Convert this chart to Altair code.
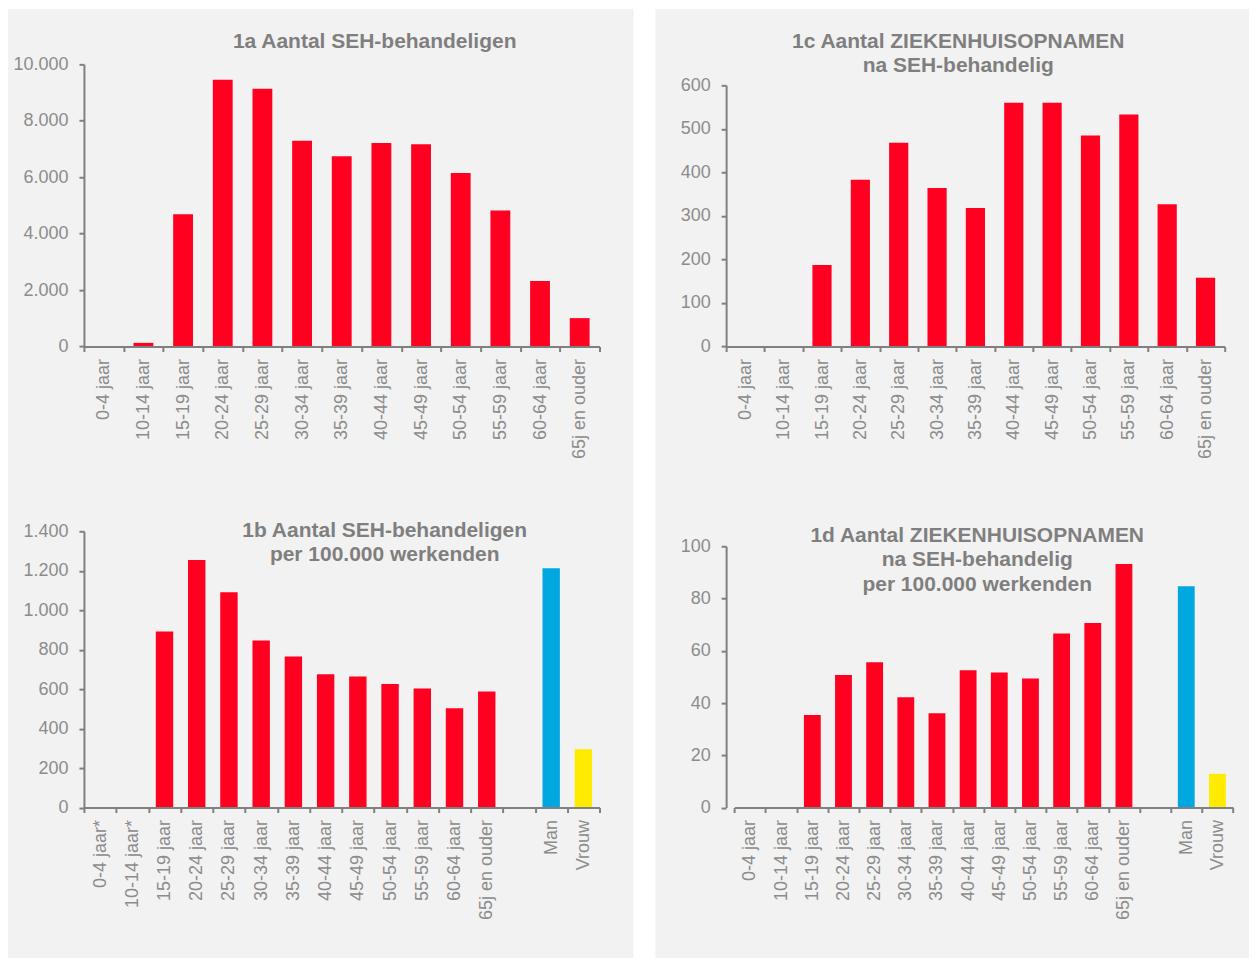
import altair as alt
import pandas as pd

# ---------------- data ----------------
age_groups = ["0-4 jaar", "10-14 jaar", "15-19 jaar", "20-24 jaar", "25-29 jaar",
              "30-34 jaar", "35-39 jaar", "40-44 jaar", "45-49 jaar", "50-54 jaar",
              "55-59 jaar", "60-64 jaar", "65j en ouder"]
rate_groups_b = ["0-4 jaar*", "10-14 jaar*"] + age_groups[2:] + [" ", "Man", "Vrouw"]
rate_groups_d = age_groups + [" ", "Man", "Vrouw"]

kind_age = ["leeftijd"] * 13
kind_rate = ["leeftijd"] * 14 + ["Man", "Vrouw"]

seh_aantal = [0, 130, 4690, 9455, 9136, 7295, 6742, 7213, 7167, 6151, 4816, 2326, 1006]
opname_aantal = [0, 0, 187, 383, 468, 364, 318, 560, 560, 485, 533, 327, 158]
seh_per_100k = [None, None, 892, 1254, 1091, 846, 765, 675, 664, 626, 603, 503, 588,
                None, 1213, 295]
opname_per_100k = [None, None, 35.4, 50.7, 55.6, 42.2, 36.1, 52.5, 51.7, 49.4, 66.6,
                   70.6, 93.2, None, 84.7, 12.9]

title_1a = "1a Aantal SEH-behandeligen"
title_1c = "1c Aantal ZIEKENHUISOPNAMEN\nna SEH-behandelig"
title_1b = "1b Aantal SEH-behandeligen\nper 100.000 werkenden"
title_1d = "1d Aantal ZIEKENHUISOPNAMEN\nna SEH-behandelig\nper 100.000 werkenden"

kind_domain = ["leeftijd", "Man", "Vrouw"]
kind_colors = ["#FF0020", "#00A8E2", "#FFEB00"]

PANEL = "#F2F2F2"
TITLE_COLOR = "#7F7F7F"
LABEL_EXPR = "replace(format(datum.value, ','), ',', '.')"


def panel(cats, vals, kinds, ymax, ystep, w, h, title, tx, ty, band,
          xrange=None, yrange=None, bg=None):
    df = pd.DataFrame({"cat": cats, "val": vals, "kind": kinds})
    xs = dict(domain=cats, paddingInner=0, paddingOuter=0)
    if xrange is not None:
        xs["range"] = xrange
    ys = dict(domain=[0, ymax], nice=False)
    if yrange is not None:
        ys["range"] = yrange
    bars = alt.Chart(df).mark_bar(width=alt.RelativeBandSize(band)).encode(
        x=alt.X("cat:N", scale=alt.Scale(**xs), title=None,
                axis=alt.Axis(tickBand="extent", labelAngle=-90, labelPadding=7,
                              labelOverlap=False, zindex=1)),
        y=alt.Y("val:Q", scale=alt.Scale(**ys), title=None,
                axis=alt.Axis(values=list(range(0, ymax + 1, ystep)),
                              labelExpr=LABEL_EXPR, labelPadding=11, zindex=1)),
        color=alt.Color("kind:N", scale=alt.Scale(domain=kind_domain, range=kind_colors),
                        legend=None),
    )
    txt = alt.Chart(pd.DataFrame({"t": [title]})).mark_text(
        align="center", baseline="top", fontSize=21, fontWeight="bold",
        font="Liberation Sans", color=TITLE_COLOR, lineBreak="\n", lineHeight=24.5,
    ).encode(x=alt.value(tx), y=alt.value(ty), text="t:N")
    layers = []
    if bg is not None:
        x1, x2, y1, y2 = bg
        rect = alt.Chart(pd.DataFrame({"p": [1]})).mark_rect(color=PANEL).encode(
            x=alt.value(x1), x2=alt.value(x2), y=alt.value(y1), y2=alt.value(y2))
        layers.append(rect)
    layers += [bars, txt]
    return alt.layer(*layers).properties(width=w, height=h)


c1a = panel(age_groups, seh_aantal, kind_age, 10000, 2000, 516, 282.4,
            title_1a, 291, -33.8, 0.5, bg=(-76, 550, -55.3, 894.7))
c1c = panel(age_groups, opname_aantal, kind_age, 600, 100, 499, 282.4,
            title_1c, 232.3, -33.8, 0.5, yrange=[282.4, 21],
            bg=(-70.7, 523.3, -55.3, 894.7))
c1b = panel(rate_groups_b, seh_per_100k, kind_rate, 1400, 200, 516, 276.5,
            title_1b, 301, -11.5, 0.54)
c1d = panel(rate_groups_d, opname_per_100k, kind_rate, 100, 20, 507.3, 276.5,
            title_1d, 251.3, -6.5, 0.54, xrange=[8.3, 507.3], yrange=[276.5, 15])

chart = alt.concat(
    c1a, c1c, c1b, c1d, columns=2, bounds="flush",
    spacing=alt.RowColnumber(row=184.3, column=126.7), padding=0,
).configure_view(strokeWidth=0).configure_axis(
    domainColor="#808080", domainWidth=2, tickColor="#808080", tickWidth=2,
    tickSize=5, labelFont="Liberation Sans", labelFontSize=18,
    labelColor="#8C8C8C", grid=False,
)

chart.save("out.html", embed_options={"renderer": "svg", "actions": False})
